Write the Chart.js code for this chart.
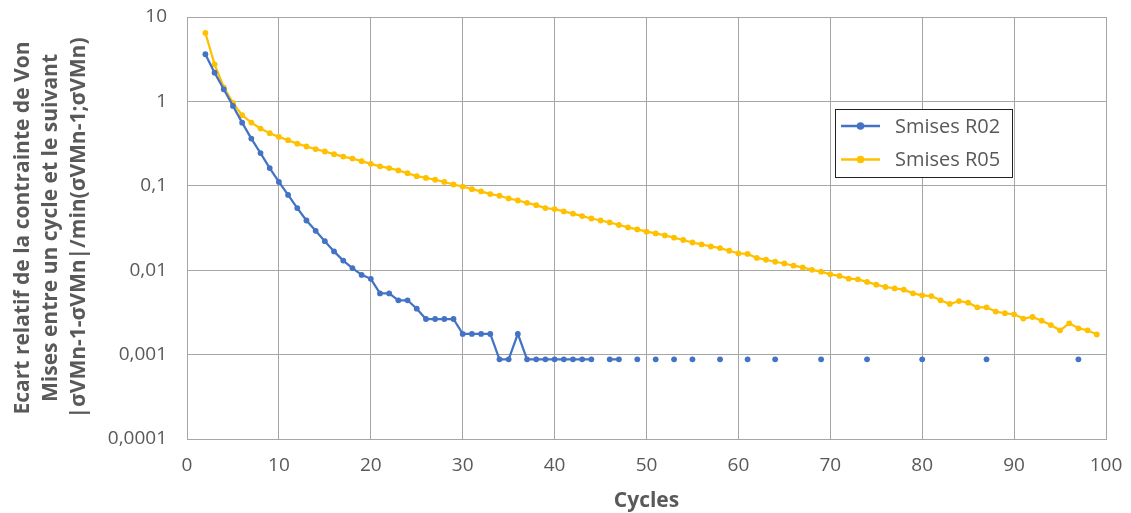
<!DOCTYPE html>
<html><head><meta charset="utf-8">
<script src="https://cdn.jsdelivr.net/npm/chart.js@4.4.1/dist/chart.umd.min.js"></script>
<style>html,body{margin:0;padding:0;background:#fff;}#wrap{position:relative;width:1131px;height:513px;}</style>
</head><body><div id="wrap"><canvas id="c" width="1131" height="513"></canvas></div>
<script>
const cycles = [2,3,4,5,6,7,8,9,10,11,12,13,14,15,16,17,18,19,20,21,22,23,24,25,26,27,28,29,30,31,32,33,34,35,36,37,38,39,40,41,42,43,44,45,46,47,48,49,50,51,52,53,54,55,56,57,58,59,60,61,62,63,64,65,66,67,68,69,70,71,72,73,74,75,76,77,78,79,80,81,82,83,84,85,86,87,88,89,90,91,92,93,94,95,96,97,98,99];
const smisesR02 = [3.62,2.19,1.39,0.885,0.56,0.363,0.244,0.162,0.111,0.078,0.0544,0.0388,0.0293,0.0221,0.0167,0.0130,0.0106,0.0088,0.0079,0.0053,0.0053,0.0044,0.0044,0.0035,0.00264,0.00264,0.00264,0.00264,0.00176,0.00176,0.00176,0.00176,0.00088,0.00088,0.00176,0.00088,0.00088,0.00088,0.00088,0.00088,0.00088,0.00088,0.00088,null,0.00088,0.00088,null,0.00088,null,0.00088,null,0.00088,null,0.00088,null,null,0.00088,null,null,0.00088,null,null,0.00088,null,null,null,null,0.00088,null,null,null,null,0.00088,null,null,null,null,null,0.00088,null,null,null,null,null,null,0.00088,null,null,null,null,null,null,null,null,null,0.00088,null,null];
const smisesR05 = [6.47,2.75,1.47,0.96,0.687,0.561,0.477,0.42,0.38,0.347,0.316,0.292,0.272,0.255,0.237,0.222,0.21,0.196,0.182,0.17,0.162,0.152,0.141,0.13,0.124,0.118,0.111,0.1036,0.098,0.0912,0.0857,0.0797,0.0762,0.0708,0.067,0.0629,0.059,0.0544,0.053,0.0497,0.0467,0.0438,0.041,0.0388,0.0368,0.0343,0.0321,0.0304,0.0286,0.0273,0.0258,0.0243,0.0228,0.0213,0.0202,0.0191,0.0183,0.017,0.0158,0.0156,0.01396,0.0133,0.0126,0.012,0.0113,0.0108,0.0101,0.0096,0.00893,0.00855,0.00794,0.00779,0.00726,0.00674,0.00632,0.00609,0.00588,0.00532,0.00504,0.00494,0.0044,0.00398,0.00431,0.00412,0.00363,0.00363,0.00323,0.00309,0.003,0.00267,0.00279,0.00252,0.00224,0.00194,0.00235,0.00205,0.00194,0.00173];
const seriesNames = ['Smises R02','Smises R05'];
const seriesColors = ['#4472C4','#FFC000'];
const yTickValues = [0.0001,0.001,0.01,0.1,1,10];
const yTickLabels = ['0,0001','0,001','0,01','0,1','1','10'];
const xTitle = 'Cycles';
const yTitle = ['Ecart relatif de la contrainte de Von','Mises entre un cycle et le suivant','|σVMn-1-σVMn|/min(σVMn-1;σVMn)'];

const FONT = "'Open Sans', 'Noto Sans', sans-serif";
const TXT = '#595959';
const GRID = '#a6a6a6';

function toPts(vals){ return cycles.map((c,i)=>({x:c,y:vals[i]})); }

const legendPlugin = {
  id:'boxLegend',
  afterDraw(chart){
    const ctx = chart.ctx;
    const bx=835.5, by=109.5, bw=177, bh=68;
    ctx.save();
    ctx.fillStyle='#fff';
    ctx.fillRect(bx,by,bw,bh);
    ctx.strokeStyle='#222'; ctx.lineWidth=1;
    ctx.strokeRect(bx,by,bw,bh);
    chart.data.datasets.forEach((ds,i)=>{
      const y = 126 + i*33.5;
      ctx.strokeStyle=ds.borderColor; ctx.lineWidth=2.5;
      ctx.beginPath(); ctx.moveTo(841,y); ctx.lineTo(880,y); ctx.stroke();
      ctx.fillStyle=ds.borderColor;
      ctx.beginPath(); ctx.arc(860.5,y,3.8,0,Math.PI*2); ctx.fill();
      ctx.fillStyle=TXT; ctx.font="20px "+FONT; ctx.textBaseline='middle'; ctx.textAlign='left';
      ctx.fillText(ds.label,895,y+1);
    });
    ctx.restore();
  }
};

new Chart(document.getElementById('c'),{
  type:'line',
  data:{datasets:[
    {label:seriesNames[0],data:toPts(smisesR02),borderColor:seriesColors[0],backgroundColor:seriesColors[0],borderWidth:2.25,pointRadius:2.9,pointHoverRadius:2.9,pointBorderWidth:0,spanGaps:false,tension:0},
    {label:seriesNames[1],data:toPts(smisesR05),borderColor:seriesColors[1],backgroundColor:seriesColors[1],borderWidth:2.25,pointRadius:2.9,pointHoverRadius:2.9,pointBorderWidth:0,spanGaps:false,tension:0}
  ]},
  options:{
    responsive:false,animation:false,devicePixelRatio:1,
    layout:{padding:{top:17,right:25,left:0,bottom:0}},
    plugins:{legend:{display:false},tooltip:{enabled:false}},
    scales:{
      x:{type:'linear',min:0,max:100,
        ticks:{stepSize:10,color:TXT,font:{family:FONT,size:19},padding:15,maxRotation:0},
        grid:{color:GRID,lineWidth:1,drawTicks:false},
        border:{color:GRID},
        title:{display:true,text:xTitle,color:TXT,font:{family:FONT,size:21,weight:'bold'},padding:{top:0,bottom:-1}},
        afterFit(s){s.height=74;s.paddingLeft=0;s.paddingRight=0;}
      },
      y:{type:'logarithmic',min:0.0001,max:10,
        afterBuildTicks(s){s.ticks=yTickValues.map(v=>({value:v}));},
        ticks:{color:TXT,font:{family:FONT,size:19},padding:20,callback:(v,i)=>yTickLabels[i]},
        grid:{color:GRID,lineWidth:1,drawTicks:false},
        border:{color:GRID},
        title:{display:true,text:yTitle,color:TXT,font:{family:FONT,size:21,weight:'bold',lineHeight:1.33},padding:{top:9,bottom:0}},
        afterFit(s){s.width=187;s.paddingTop=0;s.paddingBottom=0;}
      }
    }
  },
  plugins:[legendPlugin]
});
</script></body></html>
